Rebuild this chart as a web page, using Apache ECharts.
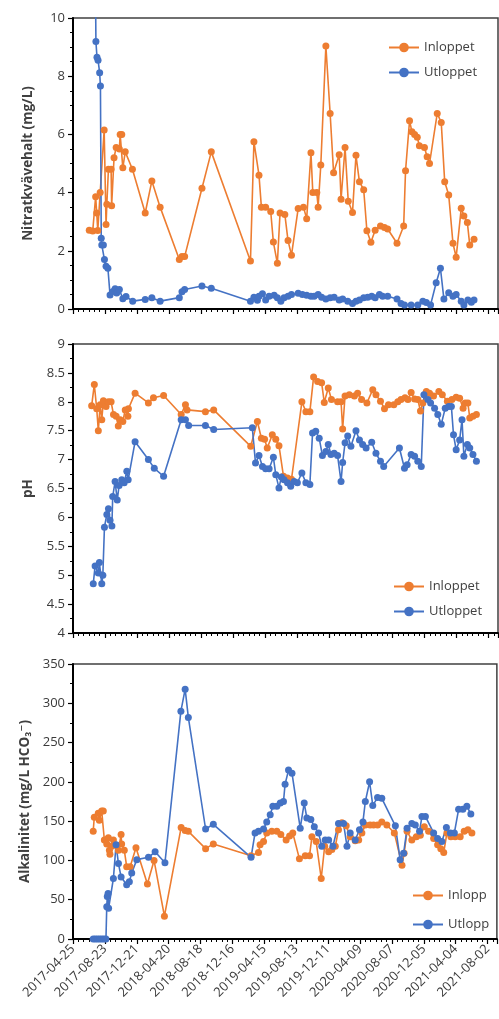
<!DOCTYPE html>
<html><head><meta charset="utf-8">
<script src="https://cdn.jsdelivr.net/npm/echarts@6/dist/echarts.min.js"></script>
<style>html,body{margin:0;padding:0;background:#fff}#c{width:499px;height:1019px}</style>
</head><body><div id="c"></div>
<script>
// x values: days since 2017-04-25
const START_DATE = '2017-04-25';
const X_TICK_STEP = 120;
const X_MAX = 1595;

const nitrateIn = [[61,2.71],[74,2.68],[85,3.86],[89,3.3],[93,2.7],[102,4.0],[117,6.15],[124,2.9],[127,3.6],[133,4.8],[143,4.8],[145,3.55],[154,5.2],[162,5.55],[174,5.5],[177,6.0],[183,6.0],[187,4.85],[196,5.4],[223,4.8],[271,3.3],[296,4.4],[327,3.5],[399,1.7],[409,1.8],[419,1.8],[484,4.15],[519,5.4],[666,1.65],[679,5.75],[698,4.6],[707,3.5],[723,3.5],[742,3.35],[752,2.3],[767,1.57],[777,3.3],[795,3.25],[807,2.35],[820,1.85],[845,3.45],[865,3.5],[877,3.1],[893,5.37],[900,4.0],[915,4.0],[920,3.5],[930,4.95],[949,9.04],[965,6.72],[978,4.68],[999,5.3],[1006,3.77],[1021,5.55],[1033,3.7],[1049,3.32],[1062,5.28],[1075,4.37],[1091,4.1],[1103,2.69],[1118,2.29],[1134,2.71],[1154,2.85],[1169,2.8],[1181,2.75],[1216,2.26],[1241,2.85],[1248,4.75],[1263,6.47],[1272,6.09],[1282,6.0],[1292,5.9],[1300,5.61],[1319,5.55],[1329,5.23],[1338,5.0],[1367,6.72],[1382,6.41],[1395,4.37],[1410,3.92],[1426,2.26],[1438,1.78],[1457,3.46],[1467,3.2],[1480,2.97],[1489,2.2],[1505,2.4]];
const nitrateOut = [[84,11.5],[86,9.19],[90,8.65],[94,8.55],[100,8.12],[103,7.66],[106,2.43],[108,2.2],[114,2.2],[118,1.7],[124,1.47],[131,1.4],[139,0.48],[150,0.6],[158,0.7],[164,0.55],[174,0.67],[187,0.35],[199,0.43],[224,0.27],[271,0.33],[296,0.39],[327,0.27],[399,0.39],[409,0.59],[419,0.67],[484,0.79],[519,0.71],[666,0.27],[679,0.4],[692,0.3],[698,0.44],[711,0.52],[723,0.31],[736,0.44],[755,0.47],[767,0.39],[780,0.27],[792,0.39],[807,0.44],[820,0.5],[845,0.54],[861,0.5],[877,0.47],[893,0.44],[905,0.44],[920,0.5],[933,0.4],[949,0.34],[965,0.39],[980,0.4],[999,0.31],[1012,0.34],[1031,0.27],[1049,0.19],[1062,0.27],[1075,0.31],[1091,0.39],[1106,0.4],[1121,0.44],[1134,0.39],[1150,0.5],[1162,0.44],[1181,0.44],[1216,0.34],[1231,0.19],[1244,0.14],[1269,0.14],[1294,0.14],[1313,0.27],[1326,0.22],[1342,0.14],[1363,0.9],[1379,1.4],[1392,0.34],[1410,0.56],[1426,0.44],[1438,0.5],[1457,0.27],[1467,0.14],[1482,0.31],[1495,0.23],[1505,0.31]];

const phIn = [[70,7.93],[80,8.30],[89,7.88],[95,7.5],[102,7.95],[108,7.69],[114,8.02],[124,7.92],[133,8.0],[143,8.0],[152,7.78],[162,7.75],[170,7.58],[177,7.69],[187,7.66],[196,7.86],[206,7.75],[208,7.88],[233,8.15],[283,7.98],[302,8.07],[340,8.11],[406,7.78],[422,7.95],[428,7.86],[497,7.83],[528,7.86],[667,7.23],[692,7.66],[707,7.37],[719,7.35],[729,7.2],[748,7.43],[761,7.35],[773,7.24],[790,6.71],[805,6.68],[820,6.66],[859,8.0],[874,7.83],[889,7.83],[903,8.43],[918,8.35],[933,8.33],[943,7.99],[958,8.24],[970,8.04],[993,8.0],[1006,8.0],[1012,7.53],[1021,8.1],[1037,8.12],[1056,8.1],[1068,8.15],[1083,8.04],[1103,7.98],[1125,8.21],[1137,8.12],[1154,8.01],[1169,7.88],[1184,7.95],[1204,7.95],[1219,8.0],[1231,8.04],[1246,8.07],[1257,8.04],[1269,8.16],[1282,8.05],[1294,8.04],[1304,7.84],[1313,7.98],[1326,8.18],[1338,8.15],[1353,8.1],[1373,8.18],[1386,8.12],[1405,8.01],[1422,8.04],[1438,8.08],[1451,8.06],[1464,7.89],[1472,7.98],[1482,7.98],[1489,7.72],[1501,7.75],[1514,7.78]];
const phOut = [[76,4.85],[83,5.16],[95,5.04],[99,5.22],[108,4.85],[112,5.0],[118,5.83],[127,6.05],[133,6.15],[139,5.95],[146,5.85],[149,6.36],[158,6.62],[166,6.3],[173,6.55],[183,6.65],[192,6.6],[202,6.8],[207,6.65],[233,7.31],[283,7.0],[305,6.85],[340,6.71],[406,7.69],[422,7.69],[434,7.59],[497,7.59],[528,7.52],[673,7.55],[685,6.94],[698,7.07],[711,6.88],[723,6.84],[736,6.84],[752,7.04],[761,6.74],[773,6.51],[782,6.7],[792,6.65],[805,6.6],[817,6.54],[830,6.62],[842,6.6],[859,6.77],[874,6.6],[889,6.57],[899,7.46],[911,7.49],[924,7.37],[936,7.07],[949,7.14],[958,7.26],[968,7.09],[980,7.11],[993,7.07],[1006,6.62],[1012,6.95],[1021,7.29],[1031,7.41],[1043,7.23],[1062,7.5],[1075,7.34],[1087,7.26],[1100,7.2],[1121,7.3],[1137,7.11],[1154,6.97],[1166,6.88],[1225,7.2],[1244,6.85],[1254,6.91],[1269,7.09],[1282,7.06],[1294,6.97],[1307,6.88],[1317,8.12],[1332,8.04],[1342,7.98],[1357,7.89],[1369,7.78],[1382,7.61],[1397,7.89],[1410,7.92],[1420,7.92],[1428,7.43],[1438,7.17],[1451,7.34],[1460,7.69],[1467,7.06],[1480,7.26],[1489,7.2],[1501,7.09],[1514,6.97]];

const alkIn = [[76,137],[80,155],[95,160],[99,151],[108,163],[114,163],[118,126],[127,121],[133,129],[137,113],[139,108],[146,118],[152,126],[165,119],[171,113],[181,133],[183,121],[193,113],[202,92],[215,92],[237,116],[280,70],[305,100],[344,29],[407,142],[422,138],[434,137],[499,115],[528,121],[670,106],[698,110],[704,120],[717,124],[729,135],[748,137],[767,137],[782,133],[802,126],[815,131],[827,135],[852,102],[874,106],[890,106],[899,130],[915,124],[934,77],[947,118],[962,111],[974,114],[987,118],[999,139],[1012,148],[1028,144],[1043,130],[1062,125],[1075,126],[1087,135],[1100,145],[1118,145],[1131,145],[1146,145],[1162,149],[1181,145],[1209,135],[1238,94],[1246,109],[1257,137],[1275,126],[1292,130],[1307,132],[1322,143],[1338,137],[1357,128],[1372,120],[1384,115],[1395,110],[1407,135],[1422,130],[1438,130],[1457,130],[1472,137],[1486,139],[1501,135]];
const alkOut = [[76,0],[84,0],[92,0],[100,0],[108,0],[116,0],[124,0],[127,41],[129,54],[132,58],[134,39],[152,77],[162,120],[171,96],[181,79],[202,69],[212,73],[221,84],[240,101],[284,104],[309,111],[346,97],[406,290],[422,318],[434,282],[499,140],[528,146],[670,104],[685,135],[698,137],[717,140],[729,149],[742,158],[752,169],[767,169],[780,173],[792,175],[798,197],[811,215],[824,211],[855,141],[870,173],[880,154],[895,152],[908,143],[924,135],[936,118],[949,126],[962,126],[978,118],[999,147],[1018,147],[1031,118],[1043,135],[1062,126],[1078,139],[1091,149],[1100,175],[1116,200],[1128,170],[1146,180],[1162,179],[1213,144],[1231,101],[1244,109],[1257,141],[1275,147],[1288,145],[1304,137],[1313,156],[1326,156],[1357,135],[1372,128],[1388,124],[1405,142],[1420,135],[1435,135],[1451,165],[1467,165],[1482,169],[1497,159]];

const ORANGE = '#ED7D31', BLUE = '#4472C4';
const FONT = '"Open Sans", "DejaVu Sans", sans-serif';
const startMs = Date.parse(START_DATE + 'T00:00:00Z');
function fmtDay(v) {
  if (Math.round(v) % X_TICK_STEP !== 0) return '';
  return new Date(startMs + v * 86400000).toISOString().slice(0, 10);
}

const grids = [
  {left: 73, right: 1, top: 18, height: 291},
  {left: 73, right: 1, top: 344, height: 289},
  {left: 73, right: 1, top: 664, height: 275}
].map(g => Object.assign(g, {show: true, borderColor: '#404040', borderWidth: 1.5}));

function xAxis(i, showLabels) {
  return {
    type: 'value', gridIndex: i, min: 0, max: X_MAX, interval: X_TICK_STEP,
    axisLine: {show: true, onZero: false, lineStyle: {color: '#000', width: 2}},
    axisTick: {show: true, length: 5, lineStyle: {color: '#000', width: 1.2}},
    minorTick: {show: true, splitNumber: 6, length: 3, lineStyle: {color: '#000', width: 1}},
    splitLine: {show: false}, minorSplitLine: {show: false},
    axisLabel: {show: showLabels, rotate: 45, fontSize: 13, color: '#3a3a3a', fontFamily: FONT, margin: 8, formatter: fmtDay}
  };
}
function yAxis(i, name, min, max, interval, minorSplit) {
  return {
    type: 'value', gridIndex: i, min, max, interval,
    name, nameLocation: 'middle', nameRotate: 90, nameGap: 38,
    nameTextStyle: {fontSize: 13.5, fontWeight: 'bold', color: '#404040', fontFamily: FONT},
    axisLine: {show: true, lineStyle: {color: '#000', width: 2}},
    axisTick: {show: true, length: 5, lineStyle: {color: '#000', width: 1.2}},
    minorTick: {show: true, splitNumber: minorSplit, length: 3, lineStyle: {color: '#000', width: 1}},
    splitLine: {show: false}, minorSplitLine: {show: false},
    axisLabel: {fontSize: 13, color: '#3a3a3a', fontFamily: FONT, margin: 8}
  };
}
function line(name, i, data, color) {
  return {
    type: 'line', name, xAxisIndex: i, yAxisIndex: i, data,
    symbol: 'circle', symbolSize: 7, showAllSymbol: true, clip: true,
    lineStyle: {color, width: 1.6}, itemStyle: {color},
    emphasis: {disabled: true}
  };
}
function legend(names, left, top, gap) {
  return {
    data: names, orient: 'vertical', left, top, itemWidth: 30, itemHeight: 12, itemGap: gap,
    textStyle: {fontSize: 13, color: '#404040', fontFamily: FONT}
  };
}

const chart = echarts.init(document.getElementById('c'), null, {renderer: 'canvas'});
chart.setOption({
  animation: false,
  backgroundColor: '#fff',
  grid: grids,
  xAxis: [xAxis(0, false), xAxis(1, false), xAxis(2, true)],
  yAxis: [
    yAxis(0, 'Nitratkvävehalt (mg/L)', 0, 10, 2, 4),
    yAxis(1, 'pH', 4, 9, 0.5, 2),
    yAxis(2, 'Alkalinitet (mg/L HCO₃⁻)', 0, 350, 50, 2)
  ],
  legend: [
    legend(['Inloppet', 'Utloppet'], 383, 36, 12),
    legend(['Inloppet', 'Utloppet'], 388, 575, 12),
    legend(['Inlopp', 'Utlopp'], 407, 884, 16)
  ],
  series: [
    line('Inloppet', 0, nitrateIn, ORANGE),
    line('Utloppet', 0, nitrateOut, BLUE),
    line('Inloppet', 1, phIn, ORANGE),
    line('Utloppet', 1, phOut, BLUE),
    line('Inlopp', 2, alkIn, ORANGE),
    line('Utlopp', 2, alkOut, BLUE)
  ]
});
</script>
</body></html>
